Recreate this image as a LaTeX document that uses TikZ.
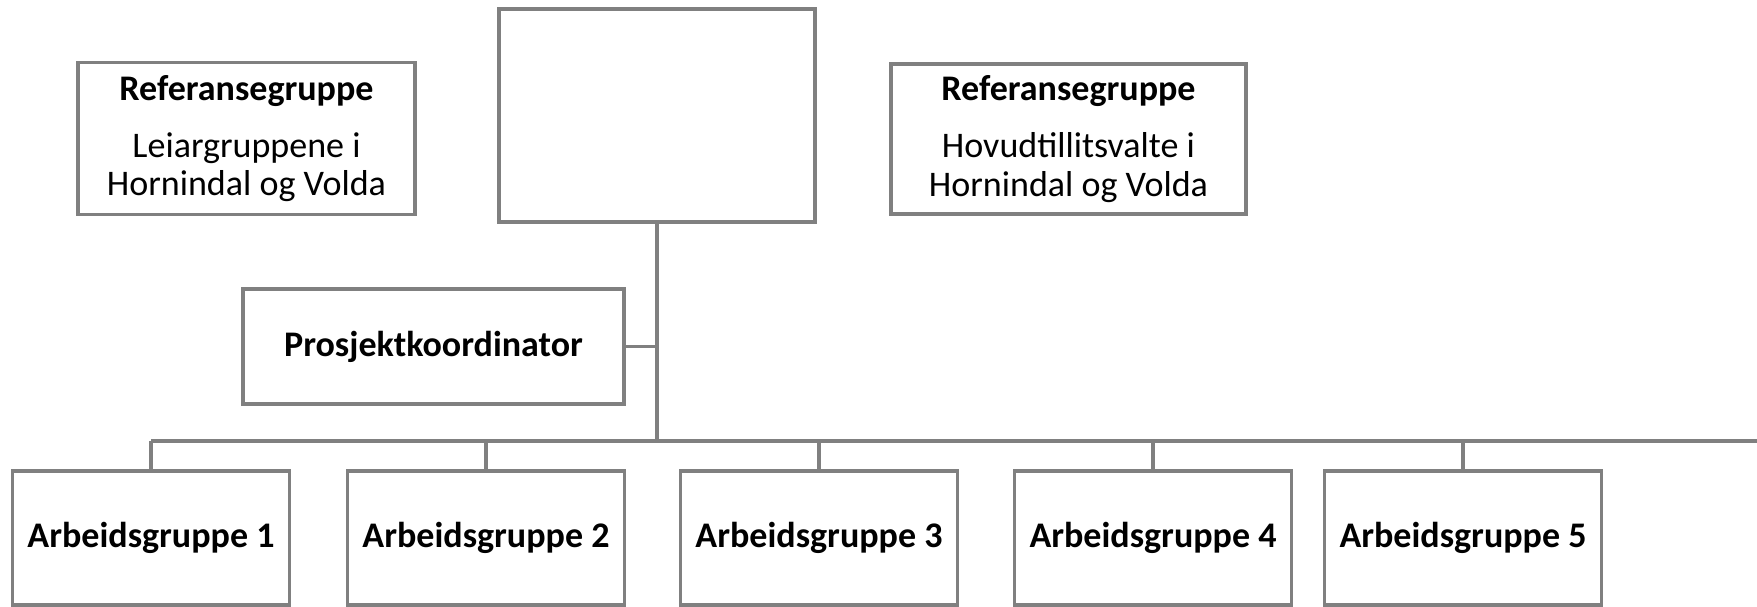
\documentclass[tikz,border=0pt]{standalone}
\usepackage{fontspec}
\setmainfont{Carlito}
\usepackage{tikz}
\usetikzlibrary{arrows}

\definecolor{linegray}{RGB}{128,128,128}

\begin{document}
\begin{tikzpicture}[-,x=0.02cm,y=-0.02cm,
			line width=2pt,box/.style={rectangle,draw=linegray,fill=white,
				line width=2.2pt,align=center,inner sep=0pt,
				font=\fontsize{20.5}{22}\selectfont},
			group box/.style={box,minimum width=5.54cm,minimum height=2.68cm,
				font=\fontsize{20.5}{22}\selectfont\bfseries}]
			
			\useasboundingbox (0,0) rectangle (1757,607);
			
			\node[box,minimum width=6.32cm,minimum height=4.26cm] (top) at (657,115.5) {};
			\node[box,minimum width=6.74cm,minimum height=3.04cm] (refL) at (246.5,138.5)
				{\textbf{Referansegruppe}\\[10.4pt]Leiargruppene i\\Hornindal og Volda};
			\node[box,minimum width=7.1cm,minimum height=3.0cm] (refR) at (1068.5,139)
				{\textbf{Referansegruppe}\\[10.4pt]Hovudtillitsvalte i\\Hornindal og Volda};
			\node[box,minimum width=7.62cm,minimum height=2.3cm,font=\fontsize{20.5}{22}\selectfont\bfseries]
				(koord) at (433.5,346.5) {Prosjektkoordinator};
			\node[group box] (ag1) at (151,538) {Arbeidsgruppe 1};
			\node[group box] (ag2) at (486,538) {Arbeidsgruppe 2};
			\node[group box] (ag3) at (819,538) {Arbeidsgruppe 3};
			\node[group box] (ag4) at (1153,538) {Arbeidsgruppe 4};
			\node[group box] (ag5) at (1463,538) {Arbeidsgruppe 5};
			\coordinate (bus) at (657,441);
			\coordinate (busL) at (151,441);
			\coordinate (busR) at (1757,441);
			\path[-,draw=linegray,line width=2pt]
			(top) edge (bus)
			(koord) edge (koord.east -| bus)
			(busL) edge (busR)
			(ag1 |- bus) edge (ag1)
			(ag2 |- bus) edge (ag2)
			(ag3 |- bus) edge (ag3)
			(ag4 |- bus) edge (ag4)
			(ag5 |- bus) edge (ag5);
		\end{tikzpicture}
\end{document}
